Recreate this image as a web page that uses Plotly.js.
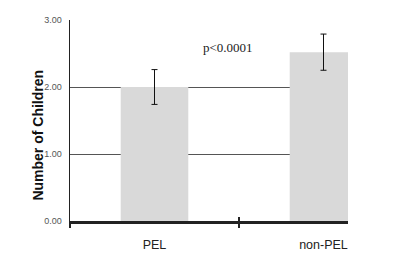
<!DOCTYPE html>
<html>
<head>
<meta charset="utf-8">
<script src="https://cdn.plot.ly/plotly-3.0.1.min.js"></script>
<style>html,body{margin:0;padding:0;background:#fff;}#chart{width:420px;height:275px;}</style>
</head>
<body>
<div id="chart"></div>
<script>
var categories = ["PEL", "non-PEL"];
var meanChildren = [2.00, 2.52];
var errorPlus = [0.26, 0.27];
var yTickVals = [0, 1, 2, 3];
var yTickText = ["0.00", "1.00", "2.00", "3.00"];
var pText = "p<0.0001";

var trace = {
  type: "bar",
  x: categories,
  y: meanChildren,
  width: 0.4,
  marker: {color: "#d9d9d9", line: {width: 0}},
  error_y: {type: "data", array: errorPlus, visible: true, color: "#111", thickness: 1, width: 3},
  hoverinfo: "none"
};
// invisible twin on an overlaying axis, only to draw the inner half of the crossing ticks
var tickTwin = {
  type: "bar", x: categories, y: meanChildren, xaxis: "x2", width: 0.4,
  marker: {color: "rgba(0,0,0,0)"}, hoverinfo: "none"
};

var xCommon = {
  type: "category",
  range: [-0.5, 1.145],
  tickson: "boundaries",
  tickwidth: 2, tickcolor: "#222",
  showgrid: false, zeroline: false
};

var layout = {
  width: 420, height: 275,
  margin: {l: 70, r: 72, t: 20, b: 54},
  paper_bgcolor: "#fff", plot_bgcolor: "#fff",
  showlegend: false,
  xaxis: Object.assign({}, xCommon, {
    ticks: "outside", ticklen: 4,
    showline: true, linecolor: "#222", linewidth: 2.5,
    ticklabelstandoff: 10,
    tickfont: {family: "Liberation Sans, Arial, sans-serif", size: 12.5, color: "#222"}
  }),
  xaxis2: Object.assign({}, xCommon, {
    overlaying: "x", side: "bottom", anchor: "y",
    ticks: "inside", ticklen: 4, showline: false, showticklabels: false
  }),
  yaxis: {
    range: [0, 3],
    tickvals: yTickVals, ticktext: yTickText,
    ticks: "", showline: true, linecolor: "#222", linewidth: 1.3,
    showgrid: true, gridcolor: "#555", gridwidth: 1,
    zeroline: false,
    ticklabelstandoff: 5,
    tickfont: {family: "Liberation Sans, Arial, sans-serif", size: 9, color: "#555"}
  },
  annotations: [
    {text: pText, xref: "paper", yref: "y", x: 0.568, y: 2.59, showarrow: false,
     font: {family: "Liberation Serif, Times New Roman, serif", size: 13, color: "#222"}},
    {text: "<b>Number of Children</b>", xref: "paper", yref: "paper", x: -0.115, y: 0.425,
     xanchor: "center", yanchor: "middle", textangle: -90, showarrow: false,
     font: {family: "Liberation Sans, Arial, sans-serif", size: 14, color: "#111"}}
  ]
};

Plotly.newPlot("chart", [trace, tickTwin], layout, {staticPlot: true, displayModeBar: false});
</script>
</body>
</html>
